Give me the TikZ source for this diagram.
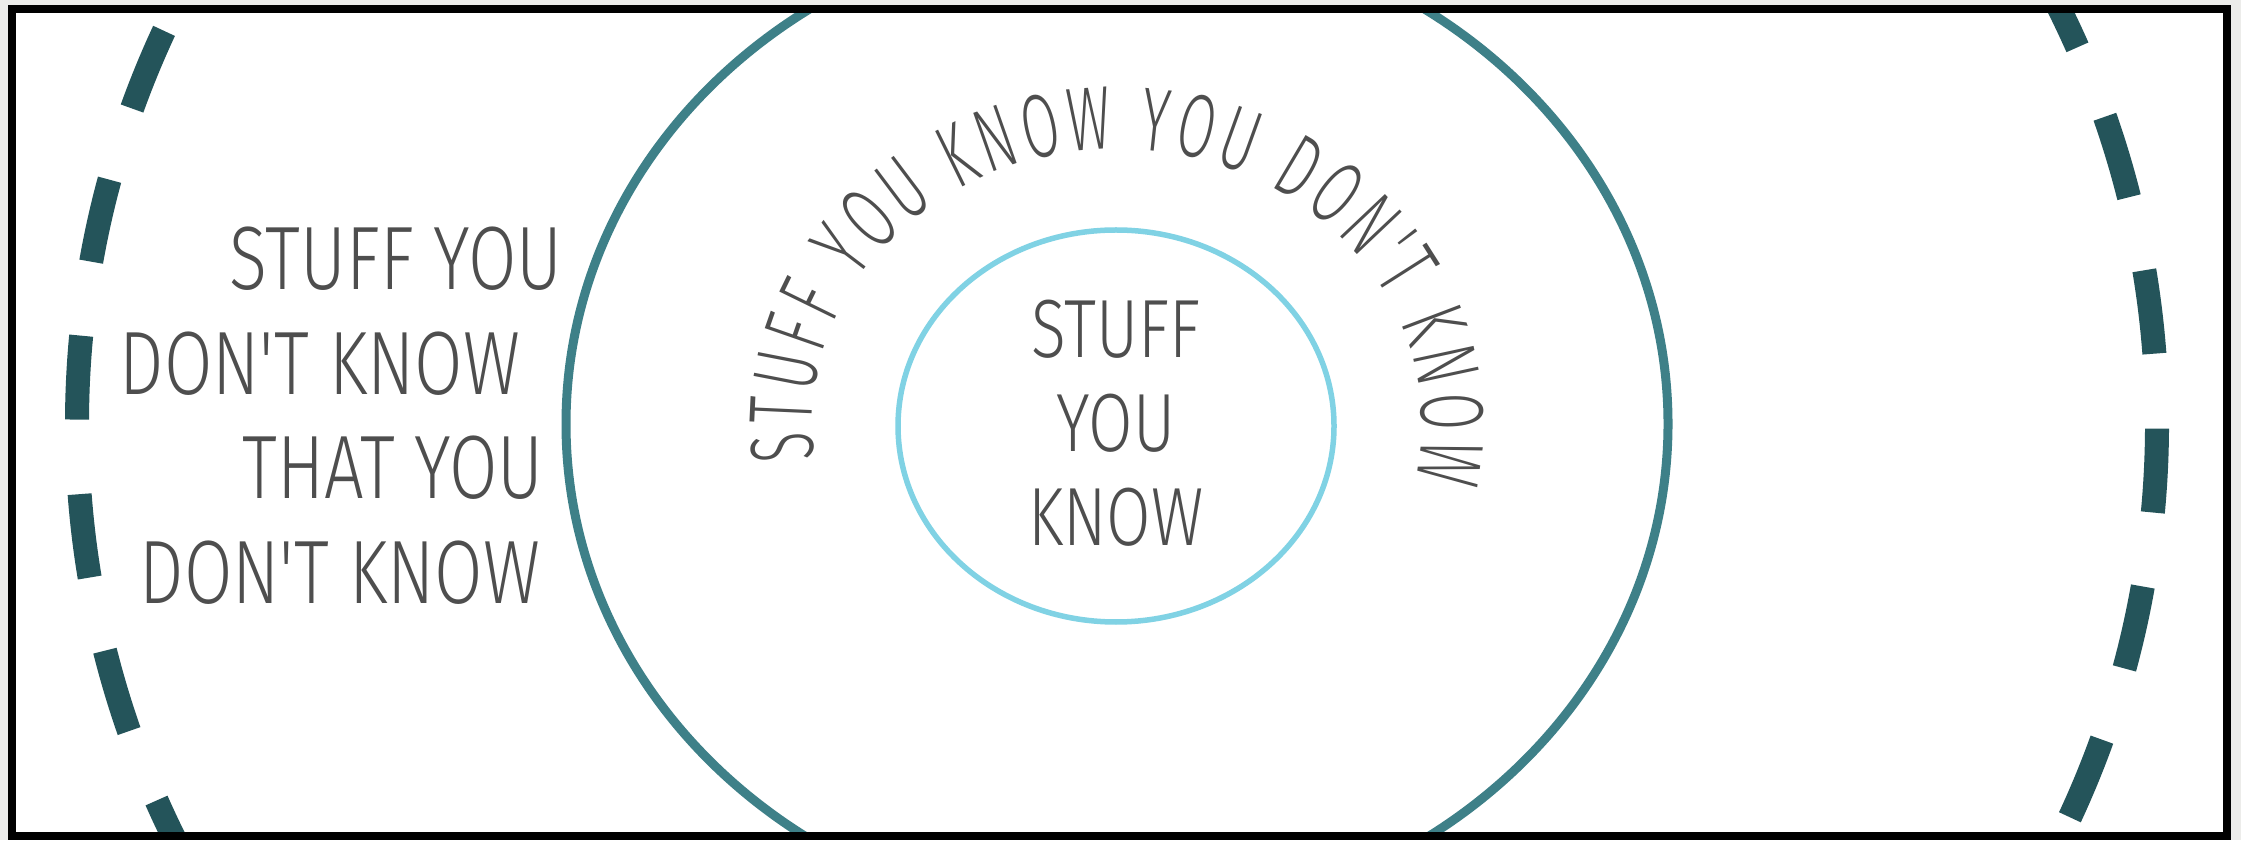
\documentclass[tikz,border=0pt]{standalone}
\usepackage{fontspec}
\newfontfamily\handfont{Fira Sans}[UprightFont=* Light, FakeStretch=0.78]
\newfontfamily\arcfont{Fira Sans}[UprightFont=* Light, FakeStretch=0.6]
\definecolor{kbg}{RGB}{236,236,234}
\definecolor{kdash}{RGB}{36,84,90}
\definecolor{kteal}{RGB}{62,128,136}
\definecolor{kcyan}{RGB}{128,210,228}
\definecolor{ktext}{RGB}{78,78,78}
\usetikzlibrary{decorations.text}

\begin{document}
\begin{tikzpicture}[
  lbl_out/.style={inner sep=0pt, text=ktext, font=\handfont\fontsize{25.6}{30}\selectfont},
  lbl_in/.style={inner sep=0pt, text=ktext, align=center, font=\handfont\fontsize{23.5}{26.7}\selectfont},
  ring_outer/.style={draw=kdash, line width=2.4mm, dash pattern=on 8.4mm off 7.47mm, dash phase=8.83mm},
  ring_mid/.style={draw=kteal, line width=0.9mm},
  ring_in/.style={draw=kcyan, line width=0.55mm}
]
  %% page and frame
  \useasboundingbox[fill=kbg] (0,0) rectangle (22.41,8.40);
  \fill[white] (0.12,0.04) rectangle (22.27,8.31);

  %% rings, cut by the frame
  \begin{scope}
    \clip (0.16,0.08) rectangle (22.23,8.27);
    \coordinate (ctr) at (11.17,4.16);
    \draw[ring_outer] (ctr) ellipse [x radius=10.40, y radius=9.80];
    \draw[ring_mid] (ctr) ellipse [x radius=5.51, y radius=5.00];
    \draw[ring_in] (11.16,4.14) ellipse [x radius=2.18, y radius=1.96];
  \end{scope}

  \draw[black, line width=0.8mm] (0.12,0.04) rectangle (22.27,8.31);

  %% outside
  \node[lbl_out] (out1) at (3.96,5.81) {STUFF YOU};
  \node[lbl_out] (out2) at (3.20,4.76) {DON'T KNOW};
  \node[lbl_out] (out3) at (3.93,3.72) {THAT YOU};
  \node[lbl_out] (out4) at (3.40,2.67) {DON'T KNOW};

  %% middle ring, text on arc
  \path[decorate, decoration={text along path, text align=fit to path,
      text={|\arcfont\fontsize{25.6}{30}\selectfont\color{ktext}|STUFF YOU KNOW YOU DON'T KNOW}}]
    (ctr) ++(187.5:3.05 and 2.75) arc [start angle=187.5, end angle=-11.8, x radius=3.05, y radius=2.75];

  %% inner
  \node[lbl_in] (inner) at (11.16,4.17) {STUFF\\YOU\\KNOW};
\end{tikzpicture}
\end{document}
